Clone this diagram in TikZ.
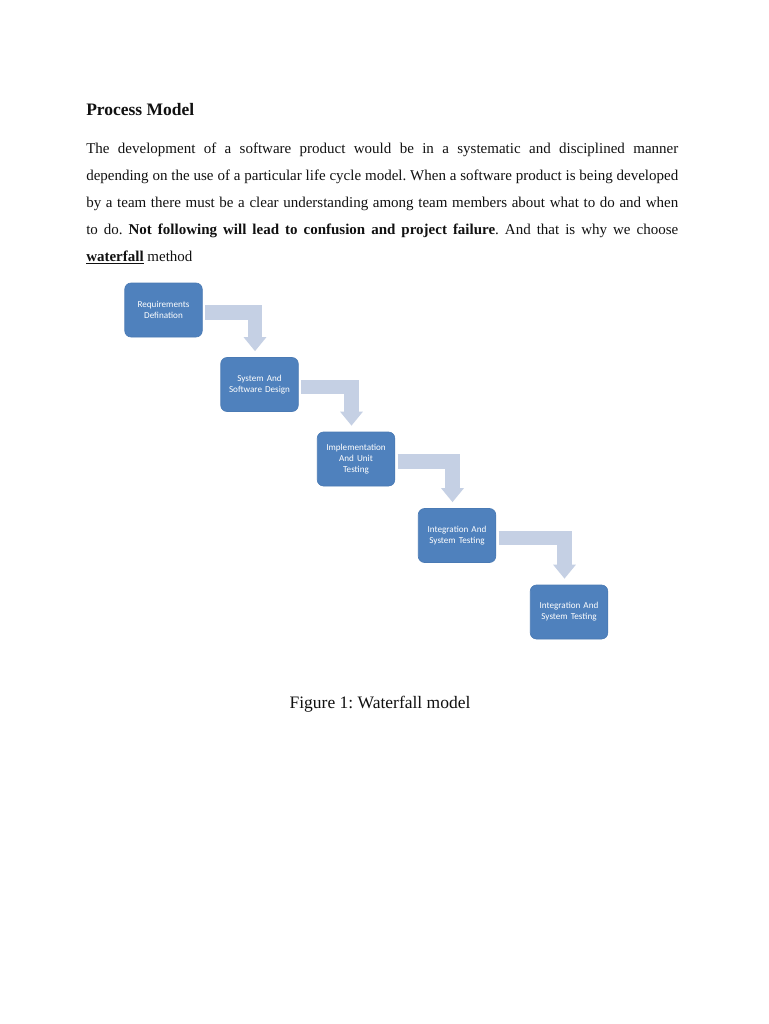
\documentclass[tikz,border=0pt]{standalone}
\usepackage{fontspec}
\setmainfont{Liberation Serif}
\newfontfamily\boxfont{Carlito}
\usetikzlibrary{arrows.meta}
\frenchspacing
\definecolor{stepBlue}{HTML}{4F81BD}
\definecolor{stepLine}{HTML}{4A7AB4}
\definecolor{flowGray}{HTML}{C5D0E4}
\definecolor{inkBlack}{HTML}{111111}
\tikzset{
    stepbox/.style={draw=stepLine,fill=stepBlue,rounded corners=5pt,line width=0.5pt,
        minimum width=61.6pt,minimum height=43.2pt,inner sep=2pt,text width=58pt,
        align=center,text=white,font=\boxfont\fontsize{7.3}{8.9}\selectfont},
    flowarrow/.style={-{Triangle[length=11.2pt,width=17.5pt]},draw=flowGray,line width=11.6pt,
        shorten <=2pt,shorten >=4.8pt},
    bodytext/.style={text=inkBlack,font=\fontsize{12}{21.6}\selectfont,inner sep=0pt}
}
\begin{document}
\begin{tikzpicture}[x=0.8pt,y=-0.8pt]
    \useasboundingbox[fill=white] (0,0) rectangle (768,1024);

    \node[bodytext,font=\fontsize{14}{16}\selectfont\bfseries,anchor=base west] (title) at (86,116)
        {Process Model};

    \node[bodytext,anchor=north west,text width=473.6pt,align=justify] (para) at (86,143)
        {The development of a software product would be in a systematic and disciplined manner\linebreak
        depending on the use of a particular life cycle model. When a software product is being developed\linebreak
        by a team there must be a clear understanding among team members about what to do and when\linebreak
        to do. \textbf{Not following will lead to confusion and project failure}. And that is why we choose\linebreak
        \underline{\textbf{waterfall}} method};

    \node[stepbox] (req) at (163.5,310) {Requirements\\Defination};
    \node[stepbox] (sys) at (259.5,384.5) {System And\\Software Design};
    \node[stepbox] (impl) at (356,459) {Implementation\\And Unit\\Testing};
    \node[stepbox] (integ) at (457,535.5) {Integration And\\System Testing};
    \node[stepbox] (integb) at (569,612) {Integration And\\System Testing};

    \draw[flowarrow] ([yshift=-2pt]req.east) -| ([xshift=-3.6pt]sys.north);
    \draw[flowarrow] ([yshift=-2pt]sys.east) -| ([xshift=-3.6pt]impl.north);
    \draw[flowarrow] ([yshift=-2pt]impl.east) -| ([xshift=-3.6pt]integ.north);
    \draw[flowarrow] ([yshift=-2pt]integ.east) -| ([xshift=-3.6pt]integb.north);

    \node[bodytext,font=\fontsize{14}{16}\selectfont,anchor=base] (caption) at (380,708)
        {Figure 1: Waterfall model};
\end{tikzpicture}
\end{document}
